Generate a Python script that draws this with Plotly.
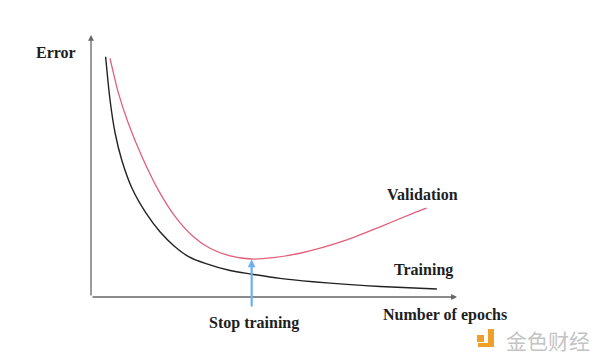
import plotly.graph_objects as go

# Data (epochs on x 0..100, error on y 0..100)
train_epochs = [4.0, 5.2, 6.6, 8.4, 11.3, 15.0, 18.9, 22.7, 26.8, 31.2, 38.0, 44.0, 51.6, 60.7, 69.9, 79.0, 94.5]
train_error = [91.7, 75.2, 62.5, 52.3, 41.2, 32.1, 24.8, 19.5, 15.3, 12.8, 10.1, 8.7, 7.1, 5.8, 4.8, 4.0, 3.05]
val_epochs = [5.2, 7.5, 10.2, 13.9, 18.4, 23.0, 28.0, 32.5, 38.0, 43.9, 49.8, 57.1, 69.9, 79.0, 88.1, 91.7]
val_error = [91.1, 77.8, 66.3, 53.6, 40.8, 30.7, 23.0, 18.6, 15.7, 14.5, 15.0, 16.7, 21.8, 26.8, 32.0, 33.9]
stop_epoch = 43.9
stop_error = 14.3

SERIF = "Liberation Serif, Times New Roman, serif"

# pixel scale: x 0 at px 91, 3.66 px per unit; y 0 at py 297, 2.62 px per unit
def px2d(px, py):
    return (px - 91) / 3.66, (297 - py) / 2.62

x_lo, y_hi = px2d(0, 0)
x_hi, y_lo = px2d(600, 358)

fig = go.Figure()
fig.add_trace(go.Scatter(x=train_epochs, y=train_error, mode="lines",
                         line=dict(color="#222222", width=1.4, shape="spline", smoothing=0.8),
                         hoverinfo="skip", showlegend=False))
fig.add_trace(go.Scatter(x=val_epochs, y=val_error, mode="lines",
                         line=dict(color="#e0607c", width=1.3, shape="spline", smoothing=0.7),
                         hoverinfo="skip", showlegend=False))

ann = []
# axes arrows
ann.append(dict(x=0, y=100, ax=0, ay=0, xref="x", yref="y", axref="x", ayref="y",
                text="", showarrow=True, arrowhead=2, arrowsize=0.9, arrowwidth=1.3, arrowcolor="#666666"))
ann.append(dict(x=100, y=0, ax=0, ay=0, xref="x", yref="y", axref="x", ayref="y",
                text="", showarrow=True, arrowhead=2, arrowsize=0.9, arrowwidth=1.3, arrowcolor="#666666"))
# stop training arrow
ann.append(dict(x=stop_epoch, y=stop_error, ax=stop_epoch, ay=-4.2, xref="x", yref="y", axref="x", ayref="y",
                text="", showarrow=True, arrowhead=2, arrowsize=0.7, arrowwidth=2.2, arrowcolor="#6cb0ee"))

def label(txt, x, y):
    return dict(x=x, y=y, xref="x", yref="y", text="<b>" + txt + "</b>", showarrow=False,
                font=dict(family=SERIF, size=16, color="#1e1e1e"), xanchor="center", yanchor="middle")

ann.append(label("Error", -9.6, 93.5))
ann.append(label("Validation", 90.7, 39.3))
ann.append(label("Training", 90.8, 10.3))
ann.append(label("Stop training", 44.5, -9.9))
ann.append(label("Number of epochs", 96.6, -6.9))

# watermark
wx, wy = px2d(548, 340)
ann.append(dict(x=wx, y=wy, xref="x", yref="y", text="金色财经", showarrow=False,
                font=dict(family="Noto Sans CJK SC", size=21, color="#c4c4c4"),
                xanchor="center", yanchor="middle"))

shapes = []
for (x0, y0, x1, y1) in [(477, 335, 484, 342), (488, 329, 494, 347), (478, 343, 494, 347)]:
    a0, b0 = px2d(x0, y1)
    a1, b1 = px2d(x1, y0)
    shapes.append(dict(type="rect", xref="x", yref="y", x0=a0, y0=b0, x1=a1, y1=b1,
                       fillcolor="#f0a028", line=dict(width=0), layer="above"))

fig.update_layout(
    width=600, height=358,
    margin=dict(l=0, r=0, t=0, b=0, pad=0, autoexpand=False),
    paper_bgcolor="white", plot_bgcolor="white",
    xaxis=dict(range=[x_lo, x_hi], visible=False, fixedrange=True),
    yaxis=dict(range=[y_lo, y_hi], visible=False, fixedrange=True),
    annotations=ann, shapes=shapes,
)

fig.write_html("out.html", config={"displayModeBar": False},
               post_script="document.body.style.margin='0';document.body.style.overflow='hidden';")
